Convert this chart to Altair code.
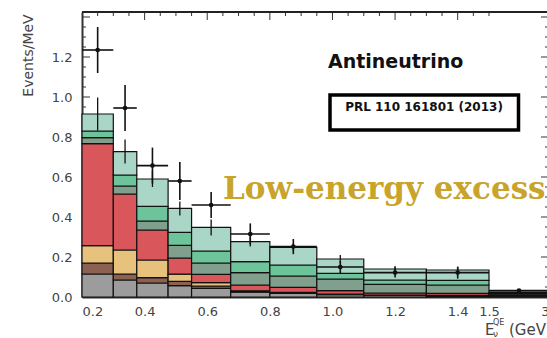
import altair as alt
import pandas as pd

# ---------------- data ----------------
edges = [0.2, 0.3, 0.375, 0.475, 0.55, 0.675, 0.8, 0.95, 1.1, 1.3, 1.5, 3.0]
comp_names = ["other", "dirt", "Δ→Nγ", "π⁰ misid", "νe from K⁰", "νe from K±", "νe from μ±"]
comp_colors = ["#9c9c9c", "#8c6152", "#e6c27c", "#d9575b", "#80a08d", "#6dc49b", "#aad6c7"]

# per-bin contents (Events/MeV) of each background component
other = [0.115, 0.085, 0.070, 0.057, 0.043, 0.024, 0.018, 0.012, 0.008, 0.006, 0.003]
dirt  = [0.055, 0.030, 0.027, 0.021, 0.012, 0.004, 0.003, 0.002, 0.001, 0.001, 0.001]
delta = [0.087, 0.120, 0.088, 0.036, 0.017, 0.003, 0.002, 0.001, 0.001, 0.001, 0.001]
pi0   = [0.510, 0.280, 0.150, 0.081, 0.041, 0.029, 0.025, 0.017, 0.010, 0.010, 0.003]
k0    = [0.030, 0.040, 0.045, 0.063, 0.057, 0.062, 0.057, 0.058, 0.043, 0.042, 0.008]
kpm   = [0.033, 0.055, 0.073, 0.065, 0.060, 0.055, 0.055, 0.028, 0.022, 0.023, 0.004]
mu    = [0.085, 0.117, 0.137, 0.120, 0.118, 0.100, 0.088, 0.072, 0.055, 0.052, 0.005]
syst_err = [0.083, 0.060, 0.040, 0.035, 0.040, 0.025, 0.020, 0.020, 0.015, 0.015, 0.003]

data_x   = [0.25, 0.3375, 0.425, 0.5125, 0.6125, 0.7375, 0.875, 1.025, 1.2, 1.4, 2.25]
data_y   = [1.235, 0.945, 0.657, 0.580, 0.460, 0.315, 0.252, 0.150, 0.122, 0.122, 0.032]
data_err = [0.115, 0.115, 0.090, 0.095, 0.065, 0.053, 0.038, 0.030, 0.025, 0.030, 0.006]

x_ticks = [0.2, 0.4, 0.6, 0.8, 1.0, 1.2, 1.4, 1.5, 3.0]
y_ticks = [0.0, 0.2, 0.4, 0.6, 0.8, 1.0, 1.2]
y_major = [0.0, 0.2, 0.4, 0.6, 0.8, 1.0, 1.2, 1.4]
y_minor = [0.05, 0.1, 0.15, 0.25, 0.3, 0.35, 0.45, 0.5, 0.55, 0.65, 0.7, 0.75,
           0.85, 0.9, 0.95, 1.05, 1.1, 1.15, 1.25, 1.3, 1.35]
x_major_top = [0.4, 0.6, 0.8, 1.0, 1.2, 1.4]
x_minor_top = [0.25, 0.3, 0.35, 0.45, 0.5, 0.55, 0.65, 0.7, 0.75, 0.85, 0.9, 0.95,
               1.05, 1.1, 1.15, 1.25, 1.3, 1.35, 1.45, 1.5]

# ---------------- tables ----------------
layers = [other, dirt, delta, pi0, k0, kpm, mu]
rows = []
tops = []
for i in range(len(edges) - 1):
    base = 0.0
    for name, vals in zip(comp_names, layers):
        rows.append({"lo": edges[i], "hi": edges[i + 1], "y0": base,
                     "y1": base + vals[i], "comp": name})
        base += vals[i]
    tops.append(base)
stack_df = pd.DataFrame(rows)

syst_df = pd.DataFrame({"x": data_x, "lo": [t - e for t, e in zip(tops, syst_err)],
                        "hi": [t + e for t, e in zip(tops, syst_err)]})
data_df = pd.DataFrame({"x": data_x, "y": data_y,
                        "lo": edges[:-1], "hi": edges[1:],
                        "ylo": [v - e for v, e in zip(data_y, data_err)],
                        "yhi": [v + e for v, e in zip(data_y, data_err)]})

W, H = 465, 285
XS = alt.Scale(domain=[0.2, 1.5, 3.0], range=[0, 407, 467], nice=False, zero=False)
YS = alt.Scale(domain=[0, 1.425], nice=False, zero=False)

LAB = dict(labelFont="DejaVu Sans", labelFontSize=13, labelColor="#444444")
XAX = alt.Axis(values=x_ticks, title="", ticks=False, tickSize=0, grid=False,
               labelPadding=8, labelOverlap=False, domainColor="#333333", domainWidth=2,
               labelExpr="datum.value == 3 ? '3' : format(datum.value, '.1f')", **LAB)
YAX = alt.Axis(values=y_ticks, format=".1f", ticks=False, tickSize=0, grid=False,
               labelPadding=10, domainColor="#333333", domainWidth=2,
               title="Events/MeV", titleX=-54, titleY=43, titleAngle=270,
               titleAlign="center", titleBaseline="middle",
               titleFont="DejaVu Sans", titleFontSize=14, titleColor="#444444",
               titleFontWeight="normal", **LAB)

INK = "#111111"

# ---------------- tick marks (drawn beneath the histogram) ----------------
def hticks(vals, x1, x2):
    return alt.Chart(pd.DataFrame({"v": vals})).mark_rule(color="#333333", strokeWidth=1).encode(
        y=alt.Y("v:Q", scale=YS, axis=YAX), x=alt.value(x1), x2=alt.value(x2))

def vticks(vals, y2):
    return alt.Chart(pd.DataFrame({"v": vals})).mark_rule(color="#333333", strokeWidth=1).encode(
        x=alt.X("v:Q", scale=XS, axis=XAX), y=alt.value(0), y2=alt.value(y2))

ticks = [hticks(y_major, 0, 8), hticks(y_minor, 0, 4),
         hticks(y_major, 459, 467), hticks(y_minor, 463, 467),
         vticks(x_major_top, 8), vticks(x_minor_top, 4)]

# ---------------- stacked histogram ----------------
stack = alt.Chart(stack_df).mark_rect(stroke="#111111", strokeWidth=1.2).encode(
    x=alt.X("lo:Q", scale=XS, axis=XAX),
    x2="hi:Q",
    y=alt.Y("y0:Q", scale=YS, axis=YAX),
    y2="y1:Q",
    color=alt.Color("comp:N", scale=alt.Scale(domain=comp_names, range=comp_colors), legend=None),
)

# ---------------- systematic error bars on the prediction ----------------
syst = alt.Chart(syst_df).mark_rule(color=INK, strokeWidth=1.3).encode(
    x=alt.X("x:Q", scale=XS, axis=XAX), y=alt.Y("lo:Q", scale=YS, axis=YAX), y2="hi:Q")

# ---------------- data ----------------
dh = alt.Chart(data_df).mark_rule(color=INK, strokeWidth=1.6).encode(
    x=alt.X("lo:Q", scale=XS, axis=XAX), x2="hi:Q", y=alt.Y("y:Q", scale=YS, axis=YAX))
dv = alt.Chart(data_df).mark_rule(color=INK, strokeWidth=1.6).encode(
    x=alt.X("x:Q", scale=XS, axis=XAX), y=alt.Y("ylo:Q", scale=YS, axis=YAX), y2="yhi:Q")
dots = alt.Chart(data_df).mark_point(filled=True, color=INK, size=22, opacity=1).encode(
    x=alt.X("x:Q", scale=XS, axis=XAX), y=alt.Y("y:Q", scale=YS, axis=YAX))

# ---------------- frame and annotations ----------------
one = pd.DataFrame({"a": [0]})
top_frame = alt.Chart(one).mark_rule(color="#222222", strokeWidth=2).encode(
    x=alt.value(0), x2=alt.value(W), y=alt.value(0))

def label(text, x, y, size, font="DejaVu Sans", weight="normal", color="#111111",
          align="left"):
    return alt.Chart(pd.DataFrame({"t": [text]})).mark_text(
        font=font, fontSize=size, fontWeight=weight, color=color, align=align,
        baseline="alphabetic").encode(
        text="t:N", x=alt.value(x), y=alt.value(y))

box = alt.Chart(one).mark_rect(fill="white", stroke="black", strokeWidth=3.5).encode(
    x=alt.value(248), x2=alt.value(436.5), y=alt.value(83), y2=alt.value(118))

annots = [
    label("Antineutrino", 246, 56, 19, weight="bold"),
    box,
    label("PRL 110 161801 (2013)", 342, 99, 12, weight="bold", align="center"),
    label("Low-energy excess", 141, 187, 31, font="DejaVu Serif", weight="bold", color="#c8a42b"),
    label("E", 403, 323, 15, color="#444444"),
    label("QE", 411, 313, 8, color="#444444"),
    label("ν", 411, 325, 9, color="#444444"),
    label("(GeV)", 427, 323, 15, color="#444444"),
]

chart = alt.layer(*ticks, stack, syst, dh, dv, dots, top_frame, *annots).properties(
    width=W, height=H, background="white",
    padding={"left": 82, "top": 12, "right": 0, "bottom": 41},
    autosize=alt.AutoSizeParams(type="none"),
).configure_view(stroke=None)

chart.save("out.html", embed_options={"renderer": "svg", "actions": False})
